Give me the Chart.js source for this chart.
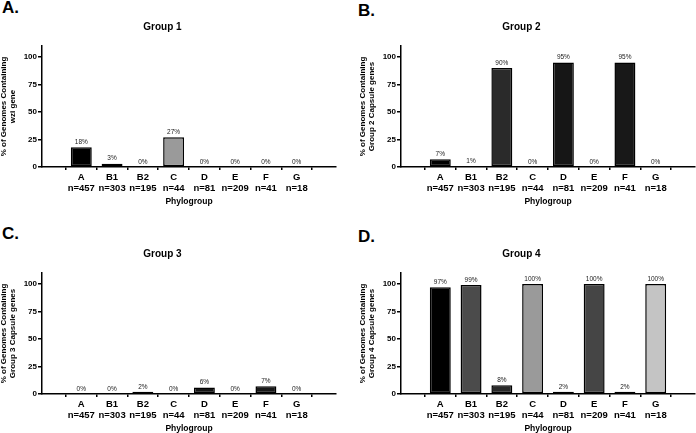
<!DOCTYPE html>
<html>
<head>
<meta charset="utf-8">
<script src="https://cdn.jsdelivr.net/npm/chart.js@4"></script>
<style>
  html, body { margin: 0; padding: 0; background: #fff; }
  body { width: 696px; height: 433px; position: relative; overflow: hidden; font-family: "Liberation Sans", Arial, sans-serif; }
  .panel { position: absolute; width: 348px; height: 216px; }
  .tag { position: absolute; font-weight: bold; font-size: 17px; line-height: 17px; color: #000; }
</style>
</head>
<body>
<div class="tag" style="left:2px;top:-1px">A.</div>
<div class="tag" style="left:358px;top:2px">B.</div>
<div class="tag" style="left:2px;top:225px">C.</div>
<div class="tag" style="left:358px;top:228px">D.</div>

<div class="panel" style="left:-11px;top:0px"><canvas id="chart1"></canvas></div>
<div class="panel" style="left:348px;top:0px"><canvas id="chart2"></canvas></div>
<div class="panel" style="left:-11px;top:227px"><canvas id="chart3"></canvas></div>
<div class="panel" style="left:348px;top:227px"><canvas id="chart4"></canvas></div>

<script>
// phylogroups and genome counts
const phylogroups = ['A', 'B1', 'B2', 'C', 'D', 'E', 'F', 'G'];
const genomeCounts = [457, 303, 195, 44, 81, 209, 41, 18];

// % of genomes containing each capsule group
const group1Values = [18, 3, 0, 27, 0, 0, 0, 0];
const group2Values = [7, 1, 90, 0, 95, 0, 95, 0];
const group3Values = [0, 0, 2, 0, 6, 0, 7, 0];
const group4Values = [97, 99, 8, 100, 2, 100, 2, 100];

const yTickValues = [0, 25, 50, 75, 100];

const barColors = ['#000000', '#4b4b4b', '#2a2a2a', '#9a9a9a', '#161616', '#454545', '#181818', '#c4c4c4'];

const fontFamily = '"Liberation Sans", Arial, Helvetica, sans-serif';

// draws the percentage above each bar
const pctLabels = {
    id: 'pctLabels',
    afterDatasetsDraw(chart) {
        const ctx = chart.ctx;
        const meta = chart.getDatasetMeta(0);
        const values = chart.data.datasets[0].data;
        ctx.save();
        ctx.font = '6.5px ' + fontFamily;
        ctx.fillStyle = '#222';
        ctx.textAlign = 'center';
        ctx.textBaseline = 'middle';
        meta.data.forEach((bar, i) => {
            ctx.fillText(values[i].y + '%', bar.x, bar.y - 5);
        });
        ctx.restore();
    }
};

function makePanel(canvasId, title, yTitle, values) {
    const ctx = document.getElementById(canvasId).getContext('2d');
    return new Chart(ctx, {
        type: 'bar',
        data: {
            datasets: [{
                data: values.map((v, i) => ({ x: i, y: v })),
                backgroundColor: barColors,
                borderColor: '#000',
                borderWidth: 1.5,
                borderSkipped: false,
                barPercentage: 0.68,
                categoryPercentage: 1
            }]
        },
        options: {
            responsive: true,
            maintainAspectRatio: false,
            animation: false,
            layout: { padding: { left: 0, right: 1, top: 0, bottom: 0 } },
            plugins: {
                legend: { display: false },
                tooltip: { enabled: false },
                title: {
                    display: true,
                    text: title,
                    color: '#000',
                    font: { family: fontFamily, size: 10, weight: 'bold', lineHeight: 1.2 },
                    padding: { top: 21, bottom: 13 }
                }
            },
            scales: {
                x: {
                    type: 'linear',
                    min: -0.68,
                    max: 7.68,
                    afterBuildTicks: s => { s.ticks = phylogroups.map((p, i) => ({ value: i })); },
                    afterFit: s => { s.height = 49; },
                    grid: { display: true, drawOnChartArea: false, drawTicks: true, tickLength: 3, color: '#000', lineWidth: 1.5 },
                    border: { color: '#000', width: 1.5 },
                    ticks: {
                        autoSkip: false,
                        maxRotation: 0,
                        padding: 1,
                        color: '#000',
                        font: { family: fontFamily, size: 9.5, weight: 'bold', lineHeight: 1.25 },
                        callback: v => [phylogroups[v], 'n=' + genomeCounts[v]]
                    },
                    title: {
                        display: true,
                        text: 'Phylogroup',
                        color: '#000',
                        font: { family: fontFamily, size: 8.5, weight: 'bold', lineHeight: 1.2 },
                        padding: { top: 0, bottom: 9 }
                    }
                },
                y: {
                    min: 0,
                    max: 110,
                    afterBuildTicks: s => { s.ticks = yTickValues.map(v => ({ value: v })); },
                    afterFit: s => { s.width = 53; },
                    grid: { display: true, drawOnChartArea: false, drawTicks: true, tickLength: 4, color: '#000', lineWidth: 1.5 },
                    border: { color: '#000', width: 1.5 },
                    ticks: {
                        padding: 1,
                        color: '#000',
                        font: { family: fontFamily, size: 8, weight: 'bold' }
                    },
                    title: {
                        display: true,
                        text: yTitle,
                        color: '#000',
                        font: { family: fontFamily, size: 8, weight: 'bold', lineHeight: 1.15 },
                        padding: { top: 10.4, bottom: 0 }
                    }
                }
            }
        },
        plugins: [pctLabels]
    });
}

makePanel('chart1', 'Group 1', ['% of Genomes Containing', 'wzi gene'], group1Values);
makePanel('chart2', 'Group 2', ['% of Genomes Containing', 'Group 2 Capsule genes'], group2Values);
makePanel('chart3', 'Group 3', ['% of Genomes Containing', 'Group 3 Capsule genes'], group3Values);
makePanel('chart4', 'Group 4', ['% of Genomes Containing', 'Group 4 Capsule genes'], group4Values);
</script>
</body>
</html>
